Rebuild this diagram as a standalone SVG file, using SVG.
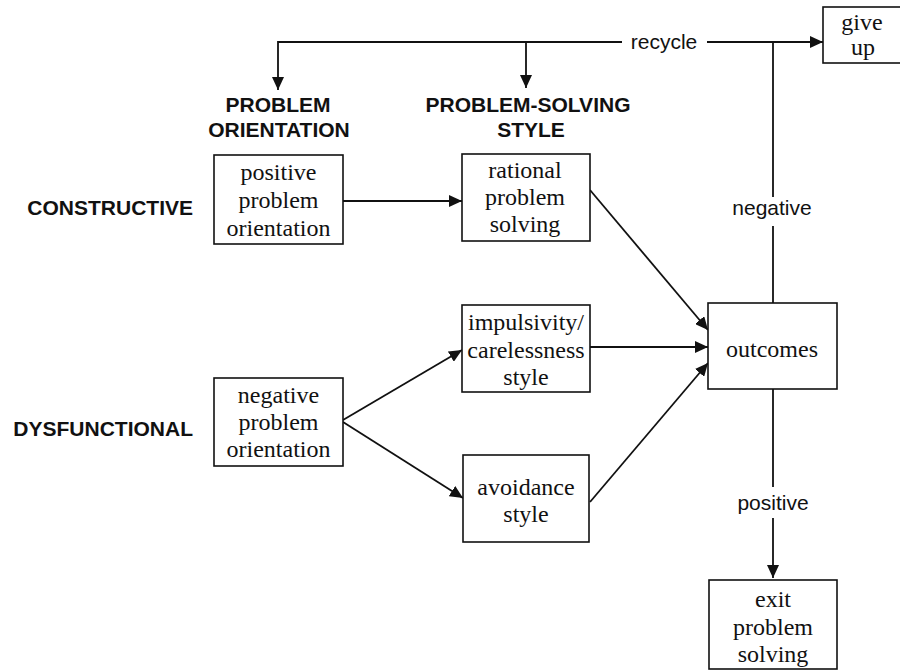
<svg xmlns="http://www.w3.org/2000/svg" width="900" height="671" viewBox="0 0 900 671">
<style>
.box{fill:#fff;stroke:#111;stroke-width:1.6}
.st{font-family:"Liberation Serif","Times New Roman",serif;font-size:24px;fill:#111;text-anchor:middle}
.ss{font-family:"Liberation Sans",Arial,sans-serif;font-size:21px;fill:#111;text-anchor:middle}
.sb{font-family:"Liberation Sans",Arial,sans-serif;font-size:21px;font-weight:bold;fill:#111}
.ln{fill:none;stroke:#111;stroke-width:1.8}
</style>
<defs>
<marker id="ah" markerUnits="userSpaceOnUse" markerWidth="14" markerHeight="12" refX="13" refY="6" orient="auto">
<path d="M0,0 L13,6 L0,12 z" fill="#111"/>
</marker>
</defs>
<rect width="900" height="671" fill="#fff"/>

<g id="connectors">
<path class="ln" d="M622,42 H278 V90" marker-end="url(#ah)"/>
<path class="ln" d="M526,42 V88" marker-end="url(#ah)"/>
<path class="ln" d="M707,42 H823" marker-end="url(#ah)"/>
<path class="ln" d="M773,303 V226"/>
<path class="ln" d="M773,197 V42"/>
<path class="ln" d="M343,201 H462" marker-end="url(#ah)"/>
<path class="ln" d="M590,190 L708,330" marker-end="url(#ah)"/>
<path class="ln" d="M590,347 H708" marker-end="url(#ah)"/>
<path class="ln" d="M590,502 L708,363" marker-end="url(#ah)"/>
<path class="ln" d="M343,420 L462,350" marker-end="url(#ah)"/>
<path class="ln" d="M343,422 L463,498" marker-end="url(#ah)"/>
<path class="ln" d="M773,389 V487"/>
<path class="ln" d="M773,518 V578" marker-end="url(#ah)"/>
<text class="ss" x="664" y="49">recycle</text>
<text class="ss" x="772" y="215">negative</text>
<text class="ss" x="773" y="510">positive</text>
</g>

<g id="labels">
<text class="sb" x="278" y="112" text-anchor="middle">PROBLEM</text>
<text class="sb" x="279" y="137" text-anchor="middle">ORIENTATION</text>
<text class="sb" x="528" y="112" text-anchor="middle">PROBLEM-SOLVING</text>
<text class="sb" x="531" y="137" text-anchor="middle">STYLE</text>
<text class="sb" x="193" y="215" text-anchor="end">CONSTRUCTIVE</text>
<text class="sb" x="193" y="436" text-anchor="end">DYSFUNCTIONAL</text>
</g>

<g id="positive-orientation">
<rect class="box" x="214" y="155" width="129" height="89"/>
<text class="st" x="278.5" y="180">positive</text>
<text class="st" x="278.5" y="208">problem</text>
<text class="st" x="278.5" y="236">orientation</text>
</g>

<g id="rational">
<rect class="box" x="462" y="154" width="128" height="87"/>
<text class="st" x="525" y="178">rational</text>
<text class="st" x="525" y="205">problem</text>
<text class="st" x="525" y="232">solving</text>
</g>

<g id="impulsivity">
<rect class="box" x="462" y="305" width="128" height="87"/>
<text class="st" x="526" y="330">impulsivity/</text>
<text class="st" x="526" y="358">carelessness</text>
<text class="st" x="526" y="385">style</text>
</g>

<g id="negative-orientation">
<rect class="box" x="214" y="378" width="129" height="88"/>
<text class="st" x="278.5" y="403">negative</text>
<text class="st" x="278.5" y="430">problem</text>
<text class="st" x="278.5" y="457">orientation</text>
</g>

<g id="avoidance">
<rect class="box" x="463" y="455" width="126" height="87"/>
<text class="st" x="526" y="495">avoidance</text>
<text class="st" x="526" y="522">style</text>
</g>

<g id="outcomes">
<rect class="box" x="708" y="303" width="129" height="86"/>
<text class="st" x="772" y="357">outcomes</text>
</g>

<g id="give-up">
<rect class="box" x="823" y="7" width="80" height="56"/>
<text class="st" x="862" y="30">give</text>
<text class="st" x="863" y="55">up</text>
</g>

<g id="exit">
<rect class="box" x="709" y="580" width="128" height="89"/>
<text class="st" x="773" y="607">exit</text>
<text class="st" x="773" y="635">problem</text>
<text class="st" x="773" y="662">solving</text>
</g>
</svg>
